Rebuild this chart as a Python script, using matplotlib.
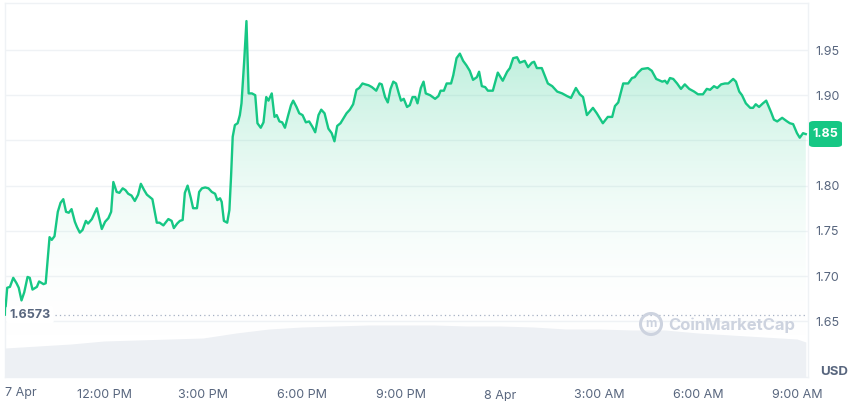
import matplotlib
matplotlib.use("Agg")
import matplotlib.pyplot as plt
import numpy as np
from matplotlib.colors import LinearSegmentedColormap
from matplotlib.patches import FancyBboxPatch, Ellipse

plt.rcParams['font.family'] = ['Inter', 'DejaVu Sans']

# minutes after 7 Apr 09:00 and price in USD
minutes = [0, 4, 9, 15, 21, 25, 30, 35, 41, 45, 50, 58, 62, 70, 74, 81, 85, 90, 96, 101,
           106, 111, 116, 121, 127, 131, 136, 141, 147, 151, 158, 167, 171, 176, 182, 188, 193, 197, 203, 208,
           214, 219, 224, 230, 236, 242, 247, 253, 258, 264, 268, 276, 281, 288, 297, 303, 307, 313, 318, 323,
           327, 332, 338, 342, 349, 353, 358, 364, 370, 376, 382, 386, 391, 394, 398, 404, 408, 411, 414, 418,
           423, 427, 430, 435, 439, 443, 449, 455, 459, 465, 470, 475, 479, 485, 490, 494, 499, 504, 509, 515,
           520, 524, 530, 535, 541, 547, 553, 559, 564, 570, 575, 581, 588, 594, 599, 604, 610, 616, 621, 627,
           633, 639, 644, 650, 655, 661, 667, 675, 681, 685, 691, 696, 701, 706, 711, 716, 720, 725, 731, 736,
           741, 746, 750, 756, 761, 765, 773, 782, 788, 792, 798, 803, 811, 815, 821, 827, 833, 839, 845, 851,
           858, 862, 867, 873, 878, 887, 896, 905, 913, 918, 924, 931, 936, 945, 951, 958, 962, 967, 976, 987,
           995, 1004, 1013, 1022, 1029, 1038, 1045, 1051, 1058, 1069, 1076, 1087, 1096, 1104, 1109, 1115, 1124, 1133, 1140, 1145,
           1151, 1158, 1169, 1176, 1184, 1195, 1200, 1204, 1209, 1215, 1222, 1229, 1236, 1244, 1253, 1260, 1269, 1276, 1282, 1289,
           1295, 1302, 1309, 1315, 1324, 1329, 1335, 1340, 1347, 1355, 1360, 1365, 1371, 1378, 1384, 1393, 1398, 1404, 1413, 1422,
           1427, 1433, 1440, 1445, 1451, 1456]
price = [1.6573, 1.687, 1.688, 1.698, 1.692, 1.687, 1.673, 1.682, 1.699, 1.698, 1.685, 1.688, 1.694, 1.691, 1.692, 1.743, 1.740, 1.744, 1.771, 1.781,
         1.785, 1.771, 1.770, 1.774, 1.760, 1.754, 1.748, 1.751, 1.761, 1.758, 1.763, 1.775, 1.765, 1.752, 1.760, 1.764, 1.771, 1.804, 1.793, 1.792,
         1.797, 1.795, 1.791, 1.789, 1.783, 1.790, 1.802, 1.795, 1.790, 1.787, 1.785, 1.759, 1.759, 1.756, 1.763, 1.761, 1.753, 1.758, 1.761, 1.762,
         1.792, 1.800, 1.786, 1.775, 1.775, 1.793, 1.797, 1.798, 1.797, 1.793, 1.791, 1.784, 1.786, 1.782, 1.761, 1.759, 1.773, 1.810, 1.854, 1.867,
         1.869, 1.878, 1.891, 1.939, 1.982, 1.902, 1.902, 1.900, 1.869, 1.864, 1.870, 1.898, 1.894, 1.902, 1.876, 1.878, 1.871, 1.870, 1.864, 1.878,
         1.889, 1.894, 1.887, 1.880, 1.878, 1.870, 1.871, 1.865, 1.859, 1.878, 1.884, 1.880, 1.863, 1.858, 1.849, 1.866, 1.869, 1.875, 1.880, 1.884,
         1.890, 1.906, 1.908, 1.913, 1.912, 1.911, 1.909, 1.905, 1.913, 1.912, 1.898, 1.892, 1.907, 1.915, 1.913, 1.902, 1.894, 1.896, 1.887, 1.889,
         1.898, 1.898, 1.891, 1.908, 1.915, 1.902, 1.900, 1.896, 1.899, 1.905, 1.905, 1.913, 1.913, 1.922, 1.941, 1.946, 1.938, 1.933, 1.927, 1.917,
         1.920, 1.926, 1.910, 1.909, 1.905, 1.905, 1.925, 1.916, 1.926, 1.930, 1.941, 1.942, 1.936, 1.938, 1.931, 1.936, 1.937, 1.930, 1.930, 1.913,
         1.910, 1.904, 1.902, 1.899, 1.897, 1.908, 1.901, 1.898, 1.878, 1.886, 1.880, 1.869, 1.876, 1.876, 1.888, 1.892, 1.913, 1.913, 1.919, 1.920,
         1.925, 1.929, 1.930, 1.927, 1.918, 1.915, 1.916, 1.913, 1.919, 1.918, 1.913, 1.907, 1.912, 1.907, 1.904, 1.901, 1.901, 1.907, 1.906, 1.910,
         1.908, 1.912, 1.913, 1.913, 1.918, 1.915, 1.904, 1.900, 1.891, 1.886, 1.886, 1.890, 1.887, 1.891, 1.894, 1.881, 1.873, 1.871, 1.875, 1.871,
         1.869, 1.868, 1.858, 1.853, 1.858, 1.857]

# rolling volume (relative units), hourly
vol_minutes = [0, 60, 120, 180, 240, 300, 360, 420, 480, 540, 600, 660, 720, 780, 840, 900, 960,
               1020, 1080, 1140, 1200, 1260, 1320, 1380, 1440, 1456]
volume = [29, 31, 33, 36, 37, 38, 39, 44, 48, 50, 51, 52, 52, 52, 51, 51, 50,
          48, 48, 47, 47, 44, 42, 40, 38, 35]

open_price = 1.6573
last_label = "1.85"
yticks = [1.65, 1.70, 1.75, 1.80, 1.85, 1.90, 1.95]
xtick_pos = [180, 360, 540, 720, 900, 1080, 1260, 1440]
xtick_lab = ['12:00 PM', '3:00 PM', '6:00 PM', '9:00 PM', '8 Apr', '3:00 AM', '6:00 AM', '9:00 AM']

green = '#16c784'
grey_txt = '#58667e'
grid_c = '#eff2f5'

W, H = 850, 401
fig = plt.figure(figsize=(W / 100, H / 100), dpi=100)
ax = fig.add_axes([5 / W, (H - 377) / H, 803 / W, 374 / H])
ax.set_xlim(0, 1460)
ax.set_ylim(1.5883, 2.0020)

# gradient fill under the line
cmap = LinearSegmentedColormap.from_list('g', [(1, 1, 1, 0), (22 / 255, 199 / 255, 132 / 255, 0.33)])
grad = np.linspace(0, 1, 256).reshape(-1, 1)
im = ax.imshow(grad, extent=[0, 1460, 1.63, 1.975], origin='lower', aspect='auto', cmap=cmap, zorder=1)
poly = ax.fill_between(minutes, price, 1.5883, color='none', lw=0)
im.set_clip_path(poly.get_paths()[0], transform=ax.transData)
ax.set_xlim(0, 1460)
ax.set_ylim(1.5883, 2.0020)

ax.plot(minutes, price, color=green, lw=1.7, zorder=4, solid_joinstyle='round')

# reference line at open price
ax.axhline(open_price, xmin=50 / 803, color='#a6b0c3', lw=0.9, ls=(0, (1, 2.5)), zorder=3)
ax.text(8, open_price, '1.6573', ha='left', va='center', fontsize=9, color=grey_txt, fontweight='bold',
        zorder=6, bbox=dict(boxstyle='round,pad=0.25', fc='white', ec='none'))

ax.set_xticks(xtick_pos)
ax.set_xticklabels(xtick_lab)
ax.tick_params(axis='x', length=0, pad=9, labelsize=9, labelcolor=grey_txt)
ax.grid(axis='y', color=grid_c, lw=1)
for s in ax.spines.values():
    s.set_color(grid_c)
    s.set_linewidth(1)
ax.set_axisbelow(True)

ax.text(0, -16 / 374, '7 Apr', transform=ax.transAxes, ha='left', va='center',
        fontsize=9, color=grey_txt)

# volume on its own scale at the bottom
ax2 = ax.twinx()
ax2.set_ylim(0, 374)
ax2.fill_between(vol_minutes, volume, 0, color='#edf0f4', lw=0, zorder=1)
ax2.set_yticks([])
ax2.patch.set_visible(False)
for s in ax2.spines.values():
    s.set_visible(False)

# price ticks on the right (after twinx, which moves them left);
# the 1.85 label sits under the current price tag
ax.set_yticks(yticks)
ax.set_yticklabels(['' if v == 1.85 else '%.2f' % v for v in yticks])
ax.yaxis.tick_right()
ax.tick_params(axis='y', length=0, pad=5, labelsize=9, labelcolor=grey_txt)

# current price tag
fig.patches.append(FancyBboxPatch((809 / W, (H - 147) / H), 33 / W, 26 / H,
                                  boxstyle='round,pad=0,rounding_size=0.006', fc=green, ec='none',
                                  transform=fig.transFigure))
fig.text(825.5 / W, (H - 134) / H, last_label, ha='center', va='center', fontsize=9,
         color='white', fontweight='bold')

fig.text(820 / W, (H - 372) / H, 'USD', ha='left', va='center', fontsize=9.5, color=grey_txt, fontweight='bold')

# watermark
wm = '#cdd3df'
fig.patches.append(Ellipse((651 / W, (H - 324) / H), 21 / W, 21 / H, transform=fig.transFigure,
                           fill=False, ec=wm, lw=2.2))
fig.text(651 / W, (H - 324) / H, 'm', ha='center', va='center', fontsize=9,
         color=wm, fontweight='bold')
fig.text(668 / W, (H - 325) / H, 'CoinMarketCap', ha='left', va='center', fontsize=12,
         color=wm, fontweight='bold')

fig.savefig('out.png', dpi=100)
